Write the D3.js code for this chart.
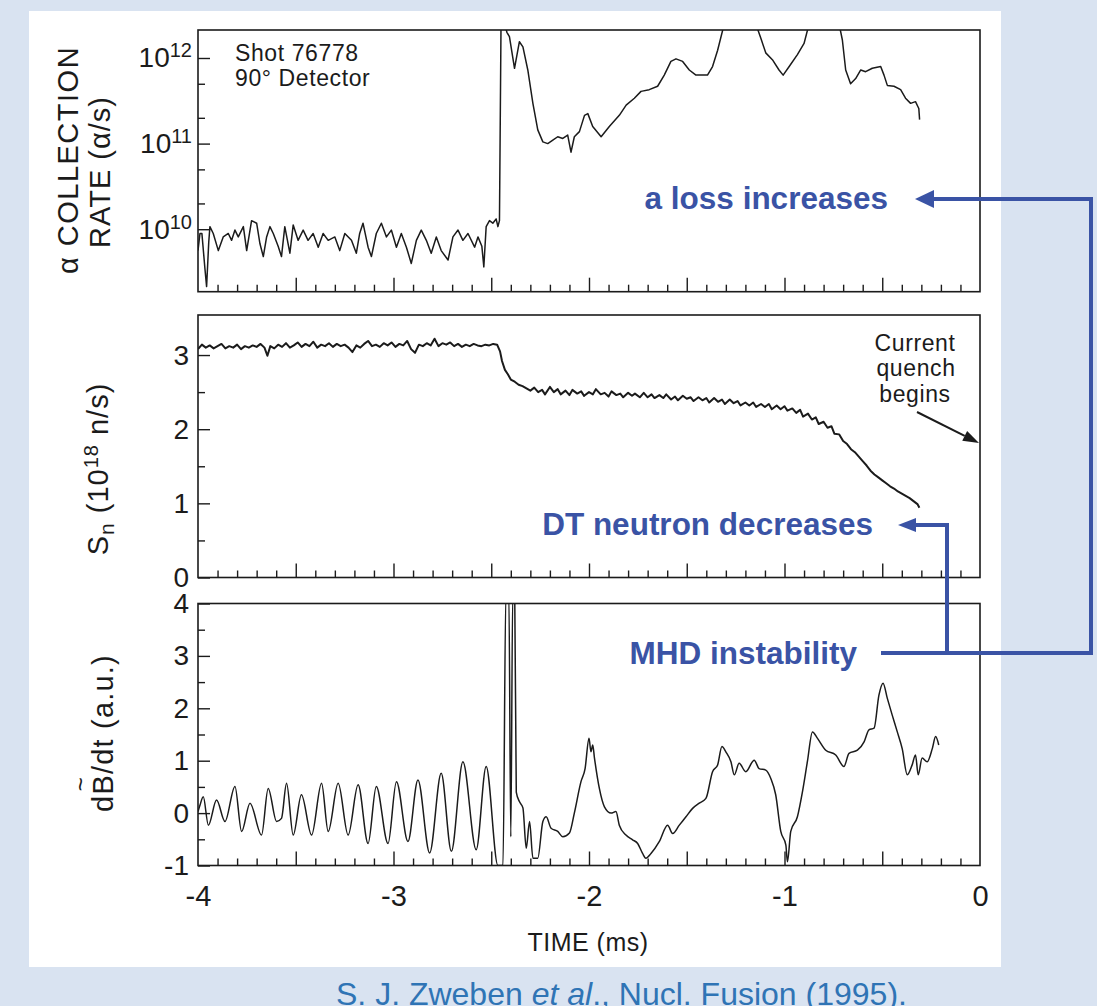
<!DOCTYPE html>
<html>
<head>
<meta charset="utf-8">
<script src="https://cdn.jsdelivr.net/npm/d3@7"></script>
<style>
    body { margin: 0; background: #d9e3f1; }
    svg { display: block; }
</style>
</head>
<body>
<div id="chart"></div>
<script>
// alpha collection rate, [time ms, log10(alpha/s)]
const alphaRate = [
    [-4.000,9.75],[-3.990,9.95],[-3.980,9.95],[-3.965,9.55],[-3.956,9.33],[-3.945,9.85],[-3.939,10.03],[-3.922,9.95],
    [-3.896,9.75],[-3.871,9.91],[-3.845,9.95],[-3.828,9.87],[-3.811,9.99],[-3.794,9.91],[-3.768,10.03],[-3.751,9.75],
    [-3.726,10.10],[-3.700,10.07],[-3.683,9.83],[-3.666,9.68],[-3.649,9.91],[-3.632,10.03],[-3.615,9.95],[-3.590,9.80],
    [-3.573,9.68],[-3.556,10.03],[-3.530,9.72],[-3.513,10.05],[-3.488,9.87],[-3.462,9.99],[-3.437,9.87],[-3.411,9.95],
    [-3.385,9.79],[-3.360,9.95],[-3.334,9.87],[-3.300,9.91],[-3.275,9.75],[-3.249,9.95],[-3.215,9.87],[-3.190,9.72],
    [-3.173,9.95],[-3.156,10.07],[-3.130,9.79],[-3.113,9.68],[-3.088,9.95],[-3.062,10.07],[-3.036,9.91],[-3.011,9.99],
    [-2.985,9.79],[-2.960,9.95],[-2.934,9.79],[-2.909,9.60],[-2.883,9.87],[-2.858,9.99],[-2.832,9.87],[-2.807,9.72],
    [-2.781,9.91],[-2.756,9.75],[-2.721,9.64],[-2.696,9.91],[-2.670,9.99],[-2.645,9.87],[-2.619,9.95],[-2.585,9.79],
    [-2.568,9.91],[-2.548,9.80],[-2.538,9.56],[-2.526,10.03],[-2.509,10.10],[-2.492,10.07],[-2.475,10.12],[-2.466,10.03],
    [-2.458,10.10],[-2.450,12.40],[-2.432,12.40],[-2.420,12.30],[-2.407,12.25],[-2.381,11.88],[-2.356,12.19],[-2.338,12.13],
    [-2.313,11.86],[-2.287,11.47],[-2.262,11.16],[-2.236,11.02],[-2.211,11.00],[-2.185,11.04],[-2.160,11.08],[-2.134,11.06],
    [-2.109,11.10],[-2.092,10.90],[-2.075,11.08],[-2.049,11.14],[-2.023,11.33],[-2.006,11.35],[-1.981,11.20],[-1.938,11.08],
    [-1.896,11.20],[-1.845,11.33],[-1.810,11.45],[-1.768,11.53],[-1.734,11.61],[-1.692,11.63],[-1.649,11.67],[-1.615,11.80],
    [-1.581,11.96],[-1.555,11.99],[-1.521,11.96],[-1.487,11.86],[-1.453,11.80],[-1.394,11.80],[-1.368,11.90],[-1.342,12.09],
    [-1.308,12.40],[-1.147,12.40],[-1.121,12.23],[-1.096,12.06],[-1.062,11.98],[-1.028,11.86],[-1.007,11.80],[-0.976,11.90],
    [-0.934,12.04],[-0.900,12.17],[-0.874,12.40],[-0.721,12.40],[-0.704,12.21],[-0.687,11.86],[-0.662,11.70],[-0.636,11.76],
    [-0.610,11.86],[-0.585,11.84],[-0.551,11.88],[-0.508,11.90],[-0.491,11.80],[-0.474,11.68],[-0.440,11.67],[-0.406,11.63],
    [-0.381,11.53],[-0.355,11.47],[-0.330,11.49],[-0.313,11.41],[-0.309,11.28]
];

// DT neutron source rate, [time ms, 1e18 n/s]
const neutronRate = [
    [-4.00,3.08],[-3.98,3.14],[-3.96,3.10],[-3.94,3.13],[-3.92,3.09],[-3.90,3.12],[-3.88,3.15],[-3.86,3.09],
    [-3.84,3.12],[-3.82,3.10],[-3.80,3.14],[-3.78,3.08],[-3.76,3.12],[-3.74,3.10],[-3.72,3.13],[-3.70,3.11],
    [-3.68,3.15],[-3.66,3.10],[-3.645,2.99],[-3.63,3.12],[-3.61,3.09],[-3.59,3.14],[-3.57,3.11],[-3.55,3.16],
    [-3.53,3.10],[-3.51,3.13],[-3.49,3.17],[-3.47,3.11],[-3.45,3.15],[-3.43,3.12],[-3.41,3.18],[-3.39,3.10],
    [-3.37,3.14],[-3.35,3.12],[-3.33,3.16],[-3.31,3.11],[-3.29,3.15],[-3.27,3.12],[-3.25,3.14],[-3.23,3.10],
    [-3.21,3.04],[-3.19,3.13],[-3.17,3.10],[-3.15,3.15],[-3.13,3.19],[-3.11,3.12],[-3.09,3.14],[-3.07,3.11],
    [-3.05,3.16],[-3.03,3.13],[-3.01,3.17],[-2.99,3.11],[-2.97,3.15],[-2.95,3.13],[-2.93,3.19],[-2.91,3.08],
    [-2.89,3.03],[-2.87,3.14],[-2.85,3.12],[-2.83,3.16],[-2.81,3.13],[-2.79,3.22],[-2.77,3.12],[-2.75,3.16],
    [-2.73,3.14],[-2.71,3.17],[-2.69,3.12],[-2.67,3.15],[-2.65,3.11],[-2.63,3.14],[-2.61,3.12],[-2.59,3.15],
    [-2.57,3.13],[-2.55,3.12],[-2.53,3.14],[-2.51,3.13],[-2.49,3.15],[-2.47,3.14],
    [-2.455,3.05],[-2.445,2.92],[-2.43,2.80],[-2.415,2.74],[-2.40,2.67],[-2.38,2.64],[-2.36,2.60],[-2.34,2.58],
    [-2.32,2.55],[-2.30,2.52],[-2.28,2.56],[-2.26,2.50],[-2.24,2.53],[-2.225,2.47],[-2.20,2.57],[-2.18,2.50],
    [-2.16,2.54],[-2.145,2.47],[-2.12,2.52],[-2.10,2.46],[-2.085,2.53],[-2.06,2.48],[-2.04,2.51],[-2.025,2.45],
    [-2.00,2.50],[-1.98,2.47],[-1.965,2.54],[-1.94,2.47],[-1.92,2.49],[-1.90,2.44],[-1.885,2.51],[-1.86,2.46],
    [-1.84,2.48],[-1.825,2.43],[-1.80,2.49],[-1.78,2.45],[-1.765,2.48],[-1.74,2.43],[-1.72,2.49],[-1.70,2.43],
    [-1.68,2.47],[-1.665,2.42],[-1.64,2.46],[-1.62,2.42],[-1.605,2.47],[-1.58,2.40],[-1.56,2.44],[-1.545,2.39],
    [-1.52,2.45],[-1.50,2.41],[-1.48,2.43],[-1.465,2.38],[-1.44,2.43],[-1.42,2.39],[-1.40,2.42],[-1.385,2.36],
    [-1.36,2.42],[-1.34,2.37],[-1.32,2.40],[-1.305,2.34],[-1.28,2.40],[-1.26,2.35],[-1.24,2.38],[-1.225,2.32],
    [-1.20,2.36],[-1.18,2.32],[-1.16,2.36],[-1.145,2.30],[-1.12,2.34],[-1.10,2.30],[-1.08,2.34],[-1.065,2.27],
    [-1.04,2.32],[-1.02,2.27],[-1.00,2.31],[-0.985,2.25],[-0.96,2.28],[-0.94,2.22],[-0.92,2.26],[-0.905,2.17],
    [-0.88,2.21],[-0.86,2.13],[-0.84,2.16],[-0.825,2.07],[-0.80,2.10],[-0.78,2.02],[-0.76,2.04],[-0.745,1.94],
    [-0.72,1.93],[-0.70,1.84],[-0.68,1.80],[-0.66,1.73],[-0.64,1.69],[-0.62,1.63],[-0.60,1.57],[-0.58,1.51],
    [-0.56,1.44],[-0.54,1.39],[-0.52,1.35],[-0.50,1.31],[-0.48,1.27],[-0.46,1.23],[-0.44,1.20],[-0.42,1.16],
    [-0.40,1.13],[-0.38,1.10],[-0.36,1.07],[-0.34,1.03],[-0.32,0.99],[-0.31,0.94]
];

// magnetic fluctuation dB/dt, [time ms, a.u.]
const mhdSignal = [
    [-4.000,0.03],[-3.990,0.15],[-3.973,0.31],[-3.947,-0.23],[-3.905,0.25],[-3.862,-0.16],[-3.811,0.51],[-3.777,-0.35],
    [-3.734,0.19],[-3.675,-0.42],[-3.641,0.47],[-3.598,-0.16],[-3.573,-0.10],[-3.547,0.57],[-3.513,-0.42],[-3.471,0.35],
    [-3.419,-0.42],[-3.368,0.57],[-3.334,-0.35],[-3.283,0.57],[-3.232,-0.42],[-3.181,0.54],[-3.130,-0.58],[-3.088,0.51],
    [-3.028,-0.58],[-2.985,0.60],[-2.926,-0.54],[-2.875,0.63],[-2.815,-0.76],[-2.756,0.76],[-2.704,-0.73],[-2.645,0.98],
    [-2.577,-0.70],[-2.526,0.89],[-2.466,-1.00],[-2.440,-1.00],[-2.425,4.20],[-2.410,4.20],[-2.400,-0.45],[-2.390,4.20],
    [-2.380,4.20],[-2.372,0.40],[-2.356,0.22],[-2.338,0.10],[-2.321,-0.67],[-2.304,-0.16],[-2.287,-0.86],[-2.262,-0.86],
    [-2.236,-0.16],[-2.219,-0.07],[-2.194,-0.29],[-2.160,-0.35],[-2.134,-0.45],[-2.100,-0.38],[-2.075,0.00],[-2.041,0.60],
    [-2.020,0.85],[-2.000,1.43],[-1.990,1.17],[-1.981,1.30],[-1.972,1.05],[-1.947,0.47],[-1.921,0.12],[-1.887,0.00],
    [-1.862,0.03],[-1.845,-0.23],[-1.811,-0.42],[-1.777,-0.51],[-1.751,-0.58],[-1.726,-0.77],[-1.709,-0.86],[-1.683,-0.77],
    [-1.640,-0.54],[-1.598,-0.23],[-1.572,-0.39],[-1.538,-0.23],[-1.504,-0.07],[-1.470,0.09],[-1.436,0.19],[-1.402,0.28],
    [-1.368,0.79],[-1.342,0.92],[-1.320,1.27],[-1.300,1.17],[-1.274,0.98],[-1.257,0.73],[-1.232,0.95],[-1.198,0.79],
    [-1.155,1.01],[-1.130,0.85],[-1.096,0.82],[-1.070,0.66],[-1.045,0.35],[-1.019,-0.35],[-0.993,-0.61],[-0.985,-0.93],
    [-0.968,-0.35],[-0.934,-0.07],[-0.908,0.41],[-0.883,0.98],[-0.857,1.55],[-0.832,1.43],[-0.789,1.20],[-0.738,1.11],
    [-0.696,0.89],[-0.670,1.14],[-0.627,1.20],[-0.593,1.36],[-0.568,1.59],[-0.542,1.62],[-0.517,2.25],[-0.496,2.48],
    [-0.474,2.19],[-0.449,1.87],[-0.423,1.55],[-0.398,1.23],[-0.372,0.73],[-0.347,0.92],[-0.330,1.11],[-0.316,0.73],
    [-0.296,1.05],[-0.270,0.98],[-0.244,1.23],[-0.227,1.46],[-0.211,1.30]
];

const timeLabels = [-4, -3, -2, -1, 0];
const timeMajorTicks = [-3.5, -3, -2.5, -2, -1.5, -1, -0.5];
const alphaMajorTicks = [1e10, 1e11, 1e12];
const alphaMinorTicks = [2e10, 5e10, 2e11, 5e11];
const alphaExponents = ['10', '11', '12'];
const neutronMajorTicks = [0, 1, 2, 3];
const neutronMinorTicks = [0.5, 1.5, 2.5];
const mhdMajorTicks = [-1, 0, 1, 2, 3, 4];
const mhdMinorTicks = [-0.5, 0.5, 1.5, 2.5, 3.5];

const ink = '#1b1b1b';
const blue = '#3a53a5';
const font = '"Liberation Sans", Arial, Helvetica, sans-serif';

const svg = d3.select('#chart').append('svg')
    .attr('width', 1097)
    .attr('height', 1006)
    .attr('font-family', font);

svg.append('rect').attr('width', 1097).attr('height', 1006).attr('fill', '#d9e3f1');
svg.append('rect').attr('x', 29).attr('y', 11).attr('width', 972).attr('height', 956).attr('fill', '#fff');

const x = d3.scaleLinear().domain([-4, 0]).range([198, 980]);
const timeMinorTicks = d3.range(-39, 0).map(d => d / 10).filter(d => !timeMajorTicks.includes(d));

const yAlpha = d3.scaleLog().domain([Math.pow(10, 9.27), Math.pow(10, 12.327)]).range([291.7, 30]);
const yNeutron = d3.scaleLinear().domain([0, 3.54]).range([577.5, 315]);
const yMhd = d3.scaleLinear().domain([-1, 4]).range([865.5, 603.5]);

function styleAxis(sel) {
    sel.select('.domain').remove();
    sel.selectAll('line').attr('stroke', ink).attr('stroke-width', 1.4);
    sel.selectAll('text').attr('fill', ink).attr('font-family', font);
}

function panel(id, y, majors, minors, data, yValue, lineWidth, curve) {
    const [bottom, top] = y.range();
    const g = svg.append('g');

    svg.append('clipPath').attr('id', id)
        .append('rect')
        .attr('x', 198).attr('y', top)
        .attr('width', 782).attr('height', bottom - top);

    g.append('g').attr('transform', `translate(0,${bottom})`)
        .call(d3.axisBottom(x).tickValues(timeMajorTicks).tickSize(-14).tickFormat(''))
        .call(styleAxis);
    g.append('g').attr('transform', `translate(0,${bottom})`)
        .call(d3.axisBottom(x).tickValues(timeMinorTicks).tickSize(-7).tickFormat(''))
        .call(styleAxis);

    const yAxis = g.append('g').attr('transform', 'translate(198,0)')
        .call(d3.axisLeft(y).tickValues(majors).tickSize(-12).tickPadding(9).tickFormat(d => String(d)))
        .call(styleAxis);
    yAxis.selectAll('text').attr('font-size', 28);

    g.append('g').attr('transform', 'translate(198,0)')
        .call(d3.axisLeft(y).tickValues(minors).tickSize(-7).tickFormat(''))
        .call(styleAxis);

    const line = d3.line()
        .x(d => x(d[0]))
        .y(d => y(yValue(d)))
        .curve(curve);

    g.append('path')
        .datum(data)
        .attr('clip-path', `url(#${id})`)
        .attr('fill', 'none')
        .attr('stroke', ink)
        .attr('stroke-width', lineWidth)
        .attr('stroke-linejoin', 'round')
        .attr('d', line);

    g.append('rect')
        .attr('x', 198).attr('y', top)
        .attr('width', 782).attr('height', bottom - top)
        .attr('fill', 'none')
        .attr('stroke', ink)
        .attr('stroke-width', 1.6);

    return { g, yAxis };
}

// top: alpha collection rate (log scale)
const alphaPanel = panel('clipAlpha', yAlpha, alphaMajorTicks, alphaMinorTicks,
    alphaRate, d => Math.pow(10, d[1]), 1.5, d3.curveLinear);

alphaPanel.yAxis.selectAll('text').each(function(d, i) {
    const t = d3.select(this).text('').attr('x', -6);
    t.append('tspan').attr('font-size', 28).text('10');
    t.append('tspan').attr('font-size', 20).attr('dy', -10).text(alphaExponents[i]);
});

// middle: neutron rate
panel('clipNeutron', yNeutron, neutronMajorTicks, neutronMinorTicks,
    neutronRate, d => d[1], 2, d3.curveLinear);

// bottom: dB/dt
const mhdPanel = panel('clipMhd', yMhd, mhdMajorTicks, mhdMinorTicks,
    mhdSignal, d => d[1], 1.5, d3.curveMonotoneX);

mhdPanel.g.append('g').attr('transform', 'translate(0,865.5)')
    .call(d3.axisBottom(x).tickValues(timeLabels).tickSize(0).tickPadding(20).tickFormat(d => String(d)))
    .call(styleAxis)
    .selectAll('text').attr('font-size', 29);

// axis titles
const titles = svg.append('g').attr('fill', ink).attr('text-anchor', 'middle').attr('font-size', 29);

titles.append('text')
    .attr('transform', 'translate(78,160) rotate(-90)')
    .attr('letter-spacing', 1.5)
    .text('α COLLECTION');
titles.append('text')
    .attr('transform', 'translate(110,172) rotate(-90)')
    .attr('letter-spacing', 1)
    .text('RATE (α/s)');

const sn = titles.append('text')
    .attr('transform', 'translate(108,469) rotate(-90)')
    .attr('letter-spacing', 1);
sn.append('tspan').text('S');
sn.append('tspan').attr('font-size', 21).attr('dy', 6).text('n');
sn.append('tspan').attr('dy', -6).text(' (10');
sn.append('tspan').attr('font-size', 20).attr('dy', -10).text('18');
sn.append('tspan').attr('dy', 10).text(' n/s)');

const dbg = titles.append('g').attr('transform', 'translate(113,733) rotate(-90)');
const db = dbg.append('text').attr('letter-spacing', 1.2).text('dB/dt (a.u.)');
const bBox = db.node().getExtentOfChar(1);
dbg.append('text')
    .attr('x', bBox.x + bBox.width / 2)
    .attr('y', -24)
    .attr('font-size', 24)
    .text('~');

titles.append('text')
    .attr('x', 588).attr('y', 951)
    .attr('font-size', 25)
    .attr('letter-spacing', 0.5)
    .text('TIME (ms)');

// in-plot notes
const notes = svg.append('g').attr('fill', ink).attr('font-size', 23).attr('letter-spacing', 0.6);
notes.append('text').attr('x', 235).attr('y', 61).text('Shot 76778');
notes.append('text').attr('x', 235).attr('y', 86).text('90° Detector');

const quench = svg.append('g').attr('fill', ink).attr('font-size', 23)
    .attr('letter-spacing', 0.6).attr('text-anchor', 'middle');
quench.append('text').attr('x', 915).attr('y', 351).text('Current');
quench.append('text').attr('x', 916).attr('y', 376).text('quench');
quench.append('text').attr('x', 915).attr('y', 402).text('begins');

const tip = [979, 443];
const from = [917, 412];
const len = Math.hypot(tip[0] - from[0], tip[1] - from[1]);
const ux = (tip[0] - from[0]) / len, uy = (tip[1] - from[1]) / len;
const base = [tip[0] - 16 * ux, tip[1] - 16 * uy];
svg.append('line')
    .attr('x1', from[0]).attr('y1', from[1])
    .attr('x2', base[0]).attr('y2', base[1])
    .attr('stroke', ink).attr('stroke-width', 2);
svg.append('path')
    .attr('d', `M${tip}L${base[0] - 5.5 * uy},${base[1] + 5.5 * ux}L${base[0] + 5.5 * uy},${base[1] - 5.5 * ux}Z`)
    .attr('fill', ink);

// blue annotations
const ann = svg.append('g').attr('fill', blue).attr('font-size', 31.5)
    .attr('font-weight', 'bold').attr('text-anchor', 'end');
ann.append('text').attr('x', 888).attr('y', 209).text('a loss increases');
ann.append('text').attr('x', 873).attr('y', 535).text('DT neutron decreases');
ann.append('text').attr('x', 857).attr('y', 664).text('MHD instability');

svg.append('path')
    .attr('d', 'M932,199H1091V653H881M947,653V525H914')
    .attr('fill', 'none')
    .attr('stroke', blue)
    .attr('stroke-width', 4);
svg.append('path').attr('d', 'M915,199L934,190L934,208Z').attr('fill', blue);
svg.append('path').attr('d', 'M898,525L916,518L916,532Z').attr('fill', blue);

// citation (cut by the lower edge, as in the source)
const cite = svg.append('text')
    .attr('x', 336).attr('y', 1005)
    .attr('font-size', 32)
    .attr('fill', '#2f74b5');
cite.append('tspan').text('S. J. Zweben ');
cite.append('tspan').attr('font-style', 'italic').text('et al');
cite.append('tspan').text('., Nucl. Fusion (1995).');
</script>
</body>
</html>
